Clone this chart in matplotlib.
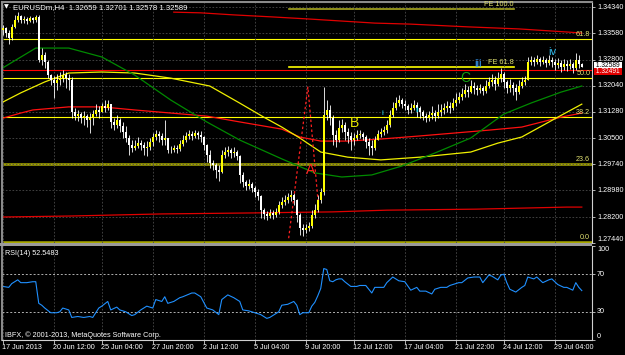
import numpy as np
import matplotlib.pyplot as plt
import matplotlib.transforms as mtransforms
from matplotlib.patches import Rectangle

plt.rcParams['font.family'] = ['Liberation Sans', 'DejaVu Sans']

# EURUSDm H4 candles (bar index 0 = 17 Jun 2013)
first_open = 1.3367
closes = [
    1.3373, 1.3358, 1.3343, 1.3376, 1.3396, 1.3408, 1.3396, 1.3399, 1.3393, 1.3402,
    1.3396, 1.3405, 1.3279, 1.3294, 1.3273, 1.3235, 1.3221, 1.3212, 1.3221, 1.3226,
    1.3235, 1.3226, 1.3221, 1.3127, 1.3115, 1.3121, 1.3109, 1.3115, 1.3104, 1.3109,
    1.3121, 1.3133, 1.3127, 1.3145, 1.3139, 1.3150, 1.3098, 1.3089, 1.3104, 1.3086,
    1.3069, 1.3051, 1.3031, 1.3022, 1.3028, 1.3036, 1.3031, 1.3022, 1.3025, 1.3039,
    1.3054, 1.3063, 1.3057, 1.3045, 1.3051, 1.3016, 1.3016, 1.3022, 1.3019, 1.3033,
    1.3045, 1.3057, 1.3063, 1.3057, 1.3066, 1.3060, 1.3054, 1.3031, 1.3001, 1.2978,
    1.2972, 1.2958, 1.2952, 1.3001, 1.3010, 1.3016, 1.3007, 1.3010, 1.2998, 1.2943,
    1.2922, 1.2911, 1.2916, 1.2905, 1.2893, 1.2881, 1.2840, 1.2829, 1.2823, 1.2832,
    1.2826, 1.2835, 1.2855, 1.2864, 1.2870, 1.2878, 1.2884, 1.2870, 1.2826, 1.2788,
    1.2782, 1.2788, 1.2794, 1.2826, 1.2840, 1.2870, 1.2893, 1.3118, 1.3133, 1.3109,
    1.3060, 1.3045, 1.3080, 1.3089, 1.3069, 1.3057, 1.3045, 1.3051, 1.3060, 1.3063,
    1.3054, 1.3039, 1.3028, 1.3022, 1.3045, 1.3063, 1.3069, 1.3074, 1.3089, 1.3118,
    1.3139, 1.3153, 1.3162, 1.3150, 1.3145, 1.3133, 1.3139, 1.3147, 1.3139, 1.3127,
    1.3115, 1.3109, 1.3118, 1.3124, 1.3115, 1.3127, 1.3133, 1.3139, 1.3145, 1.3139,
    1.3153, 1.3162, 1.3171, 1.3180, 1.3191, 1.3185, 1.3203, 1.3197, 1.3191, 1.3197,
    1.3188, 1.3203, 1.3215, 1.3221, 1.3209, 1.3226, 1.3238, 1.3215, 1.3197, 1.3206,
    1.3197, 1.3185, 1.3203, 1.3215, 1.3221, 1.3273, 1.3279, 1.3273, 1.3282, 1.3273,
    1.3279, 1.3270, 1.3279, 1.3273, 1.3264, 1.3270, 1.3259, 1.3267, 1.3261, 1.3267,
    1.3256, 1.3279, 1.3266, 1.32589]
highs = [
    1.3381, 1.3376, 1.3367, 1.3384, 1.3411, 1.3419, 1.3411, 1.3408, 1.3405, 1.3408,
    1.3405, 1.3411, 1.3411, 1.3314, 1.3302, 1.3279, 1.3238, 1.3232, 1.3238, 1.3244,
    1.3250, 1.3244, 1.3238, 1.3229, 1.3139, 1.3133, 1.3127, 1.3130, 1.3121, 1.3124,
    1.3133, 1.3150, 1.3145, 1.3153, 1.3162, 1.3162, 1.3150, 1.3109, 1.3118, 1.3109,
    1.3098, 1.3086, 1.3060, 1.3045, 1.3045, 1.3054, 1.3045, 1.3039, 1.3042, 1.3051,
    1.3066, 1.3074, 1.3071, 1.3066, 1.3104, 1.3051, 1.3028, 1.3031, 1.3031, 1.3045,
    1.3060, 1.3069, 1.3074, 1.3071, 1.3074, 1.3071, 1.3071, 1.3057, 1.3033, 1.3016,
    1.2987, 1.2978, 1.2972, 1.3016, 1.3025, 1.3028, 1.3022, 1.3025, 1.3016, 1.3001,
    1.2952, 1.2928, 1.2931, 1.2922, 1.2911, 1.2902, 1.2884, 1.2846, 1.2837, 1.2843,
    1.2840, 1.2846, 1.2867, 1.2878, 1.2884, 1.2890, 1.2899, 1.2890, 1.2872, 1.2832,
    1.2800, 1.2800, 1.2805, 1.2840, 1.2858, 1.2884, 1.2905, 1.3200, 1.3162, 1.3147,
    1.3118, 1.3074, 1.3104, 1.3107, 1.3098, 1.3080, 1.3069, 1.3066, 1.3074, 1.3074,
    1.3069, 1.3060, 1.3051, 1.3045, 1.3057, 1.3074, 1.3080, 1.3086, 1.3104, 1.3133,
    1.3156, 1.3171, 1.3177, 1.3168, 1.3162, 1.3150, 1.3153, 1.3162, 1.3156, 1.3145,
    1.3133, 1.3124, 1.3130, 1.3145, 1.3133, 1.3150, 1.3150, 1.3153, 1.3159, 1.3156,
    1.3168, 1.3183, 1.3185, 1.3197, 1.3209, 1.3203, 1.3221, 1.3215, 1.3206, 1.3209,
    1.3203, 1.3221, 1.3229, 1.3238, 1.3232, 1.3244, 1.3256, 1.3244, 1.3221, 1.3223,
    1.3215, 1.3209, 1.3221, 1.3229, 1.3232, 1.3288, 1.3291, 1.3288, 1.3294, 1.3288,
    1.3291, 1.3285, 1.3294, 1.3288, 1.3282, 1.3285, 1.3279, 1.3282, 1.3279, 1.3282,
    1.3273, 1.3300, 1.3294, 1.32701]
lows = [
    1.3352, 1.3346, 1.3326, 1.3338, 1.3373, 1.3390, 1.3387, 1.3387, 1.3384, 1.3390,
    1.3387, 1.3390, 1.3273, 1.3264, 1.3256, 1.3226, 1.3206, 1.3168, 1.3191, 1.3206,
    1.3215, 1.3197, 1.3191, 1.3109, 1.3104, 1.3101, 1.3095, 1.3089, 1.3083, 1.3066,
    1.3089, 1.3115, 1.3109, 1.3127, 1.3127, 1.3133, 1.3080, 1.3074, 1.3080, 1.3069,
    1.3051, 1.3039, 1.3001, 1.3010, 1.3016, 1.3022, 1.3016, 1.3001, 1.2998, 1.3016,
    1.3028, 1.3045, 1.3039, 1.3031, 1.3031, 1.3007, 1.3007, 1.3010, 1.3007, 1.3013,
    1.3028, 1.3039, 1.3048, 1.3045, 1.3051, 1.3048, 1.3039, 1.3016, 1.2981, 1.2963,
    1.2958, 1.2934, 1.2925, 1.2949, 1.2993, 1.2998, 1.2993, 1.2995, 1.2987, 1.2919,
    1.2908, 1.2899, 1.2902, 1.2893, 1.2878, 1.2870, 1.2817, 1.2814, 1.2811, 1.2817,
    1.2814, 1.2820, 1.2829, 1.2846, 1.2855, 1.2861, 1.2867, 1.2855, 1.2805, 1.2767,
    1.2764, 1.2773, 1.2779, 1.2788, 1.2817, 1.2835, 1.2861, 1.2884, 1.3104, 1.3089,
    1.3031, 1.3025, 1.3039, 1.3069, 1.3045, 1.3036, 1.3016, 1.3031, 1.3045, 1.3051,
    1.3045, 1.3022, 1.3001, 1.3001, 1.3016, 1.3045, 1.3054, 1.3060, 1.3066, 1.3083,
    1.3112, 1.3133, 1.3145, 1.3139, 1.3133, 1.3121, 1.3124, 1.3133, 1.3112, 1.3109,
    1.3104, 1.3098, 1.3101, 1.3107, 1.3101, 1.3109, 1.3115, 1.3121, 1.3127, 1.3124,
    1.3133, 1.3145, 1.3153, 1.3162, 1.3171, 1.3171, 1.3183, 1.3180, 1.3177, 1.3183,
    1.3177, 1.3183, 1.3197, 1.3203, 1.3191, 1.3203, 1.3215, 1.3197, 1.3183, 1.3185,
    1.3177, 1.3162, 1.3180, 1.3197, 1.3206, 1.3221, 1.3264, 1.3261, 1.3267, 1.3261,
    1.3267, 1.3259, 1.3264, 1.3259, 1.3250, 1.3256, 1.3244, 1.3250, 1.3247, 1.3253,
    1.3241, 1.3250, 1.3256, 1.32578]
opens = [first_open] + closes[:-1]

# moving averages at some bars
green_bar = [0, 11, 22, 33, 44, 56, 68, 79, 93, 104, 113, 123, 133, 144, 156, 167, 176, 186, 193]
green_val = [1.3256, 1.3314, 1.3314, 1.3288, 1.3235, 1.3162, 1.3098, 1.3045, 1.2990, 1.2949,
             1.2937, 1.2943, 1.2969, 1.3007, 1.3051, 1.3121, 1.3153, 1.3185, 1.3203]
yellow_bar = [0, 6, 14, 22, 33, 44, 56, 69, 79, 87, 93, 99, 106, 115, 126, 139, 156, 165, 173, 185, 193]
yellow_val = [1.3156, 1.3183, 1.3215, 1.3241, 1.3244, 1.3241, 1.3226, 1.3203, 1.3153, 1.3112,
              1.3083, 1.3051, 1.3010, 1.2995, 1.2987, 1.2995, 1.3010, 1.3036, 1.3054, 1.3112, 1.3150]
red_mid_bar = [0, 6, 10, 22, 33, 44, 56, 68, 79, 93, 99, 106, 115, 126, 139, 162, 173, 186, 193]
red_mid_val = [1.3109, 1.3124, 1.3133, 1.3142, 1.3142, 1.3133, 1.3124, 1.3115, 1.3098, 1.3077,
               1.3054, 1.3042, 1.3042, 1.3048, 1.3057, 1.3074, 1.3083, 1.3112, 1.3124]
red_top_bar = [57, 66, 77, 90, 102, 113, 124, 136, 155, 172, 188, 193]
red_top_val = [1.3419, 1.3417, 1.3411, 1.3405, 1.3399, 1.3393, 1.3387, 1.3384, 1.3376, 1.3370,
               1.3361, 1.3358]
red_low_bar = [0, 23, 38, 53, 84, 110, 128, 158, 188, 193]
red_low_val = [1.2820, 1.2823, 1.2826, 1.2829, 1.2832, 1.2835, 1.2840, 1.2843, 1.2849, 1.2849]

# RSI(14)
rsi_bar = [0, 2, 3, 5, 6, 8, 10, 11, 12, 13, 14, 16, 18, 19, 20, 22, 23, 25, 27, 29, 30, 32, 33,
           35, 36, 38, 39, 41, 43, 44, 46, 48, 50, 51, 53, 54, 55, 57, 59, 60, 63, 64, 66, 68,
           70, 72, 73, 75, 77, 79, 80, 82, 84, 86, 88, 89, 92, 93, 95, 97, 98, 99, 100, 102,
           103, 104, 105, 106, 107, 108, 109, 110, 111, 112, 113, 114, 116, 118, 119, 121, 123,
           124, 127, 128, 130, 132, 134, 136, 138, 139, 141, 143, 144, 146, 148, 149, 152, 153,
           155, 157, 159, 160, 162, 163, 165, 166, 167, 168, 169, 171, 173, 174, 175, 177, 178,
           180, 182, 183, 185, 187, 188, 190, 191, 192, 193]
rsi_val = [57, 56, 60, 64, 61, 61, 62, 62, 39, 37, 34, 29, 29, 30, 34, 32, 24, 25, 24, 25, 24, 34,
           36, 41, 32, 35, 32, 30, 26, 27, 32, 36, 34, 43, 41, 46, 39, 41, 45, 46, 50, 50, 46, 34,
           32, 27, 43, 48, 45, 41, 32, 31, 29, 27, 23, 24, 30, 37, 38, 41, 37, 27, 29, 29,
           36, 40, 47, 55, 76, 75, 63, 62, 64, 65, 65, 62, 57, 57, 58, 58, 50,
           56, 56, 61, 67, 63, 62, 53, 56, 52, 52, 49, 54, 56, 56, 58, 61, 61,
           66, 67, 67, 61, 69, 68, 64, 69, 70, 61, 54, 51, 56, 58, 67, 65, 67,
           61, 64, 65, 59, 56, 56, 53, 61, 56, 52.55]

# fibonacci retracement / expansion and wave marks
fib_names = ['0.0', '23.6', '38.2', '50.0', '61.8']
fib_prices = [1.2748, 1.2975, 1.3111, 1.3226, 1.3341]
fe_names = ['FE 61.8', 'FE 100.0']
fe_prices = [1.3259, 1.3429]
fe_start, fe_end = 95.3, 170.3
wave_bar = [95.3, 101.7, 105.3]
wave_val = [1.2758, 1.3200, 1.2846]
ask_price = 1.32491
bid_price = 1.32589

price_ticks = [1.34340, 1.33580, 1.32800, 1.32040, 1.31280, 1.30500, 1.29740, 1.28980, 1.28200, 1.27440]
time_ticks = [0, 17, 33, 50, 67, 84, 101, 117, 134, 151, 167, 184]
time_labels = ['17 Jun 2013', '20 Jun 12:00', '25 Jun 04:00', '27 Jun 20:00', '2 Jul 12:00',
               '5 Jul 04:00', '9 Jul 20:00', '12 Jul 12:00', '17 Jul 04:00', '21 Jul 22:00',
               '24 Jul 12:00', '29 Jul 04:00']

W, H = 625, 355
fig = plt.figure(figsize=(W / 100, H / 100), dpi=100, facecolor='black')


def box(x0, y0, x1, y1):
    return [x0 / W, 1 - y1 / H, (x1 - x0) / W, (y1 - y0) / H]


ax = fig.add_axes(box(2, 2, 592, 243))
ax2 = fig.add_axes(box(2, 246, 592, 340), sharex=ax)
xlim = (-0.25, 196.4)
fs = 5.2
gridc = '#4a4a4a'

for a in (ax, ax2):
    a.set_facecolor('black')
    a.set_xlim(*xlim)
    a.set_xticks(time_ticks)
    a.tick_params(axis='x', length=0, labelbottom=False)
    a.grid(True, axis='x', color=gridc, lw=0.6, ls=(0, (2, 2)))
    a.spines['left'].set_color('#8a8a8a')
    a.spines['left'].set_linewidth(1.5)
    a.spines['right'].set_color('#d0d0d0')
    a.spines['right'].set_linewidth(0.8)
    a.tick_params(axis='y', left=False, right=True, labelleft=False, labelright=False,
                  length=2.5, color='#d0d0d0', width=0.6)

# main panel
ax.set_ylim(1.27440, 1.34487)
ax.set_yticks(price_ticks)
ax.grid(True, axis='y', color=gridc, lw=0.6, ls=(0, (2, 2)))
ax.spines['top'].set_color('#8a8a8a')
ax.spines['top'].set_linewidth(1.5)
ax.spines['bottom'].set_visible(False)

ytr = mtransforms.blended_transform_factory(ax.transAxes, ax.transData)
for p in price_ticks:
    ax.text(1.0085, p, '%.5f' % p, transform=ytr, color='white', fontsize=fs,
            va='bottom' if p == price_ticks[-1] else 'center', ha='left', clip_on=False)

# fib lines
for name, p in zip(fib_names, fib_prices):
    thick = name in ('0.0', '23.6')
    ax.axhline(p, color='#a8a800' if thick else '#ffff00', lw=1.8 if thick else 0.8, zorder=1.5)
    ax.text(0.997, p + 0.0003, name, transform=ytr, color='#e0e070', fontsize=fs,
            ha='right', va='bottom', zorder=6)
ax.axhline(ask_price, color='#ff0000', lw=0.8, zorder=1.5)
for name, p in zip(fe_names, fe_prices):
    ax.plot([fe_start, fe_end], [p, p], color='#ffff00' if name == 'FE 61.8' else '#a8a820',
            lw=1.2, zorder=1.5)
    ax.text(fe_end, p + 0.0003, name, color='#e0e070', fontsize=fs, ha='right', va='bottom')

# moving averages
ax.plot(red_top_bar, red_top_val, color='#e00000', lw=0.9, zorder=2)
ax.plot(red_low_bar, red_low_val, color='#e00000', lw=0.9, zorder=2)
ax.plot(red_mid_bar, red_mid_val, color='#ff1010', lw=0.9, zorder=2)
ax.plot(yellow_bar, yellow_val, color='#f0f000', lw=0.9, zorder=2)
ax.plot(green_bar, green_val, color='#008a00', lw=0.9, zorder=2)

# candles
idx = np.arange(len(closes))
o = np.array(opens)
c = np.array(closes)
bull = c >= o
bot = np.minimum(o, c)
hgt = np.maximum(np.abs(c - o), 0.00008)
ax.vlines(idx, lows, highs, color='white', lw=0.6, zorder=3)
ax.bar(idx[bull], hgt[bull], bottom=bot[bull], width=0.6, color='#ffff00', edgecolor='none', zorder=4)
ax.bar(idx[~bull], hgt[~bull], bottom=bot[~bull], width=0.6, color='white', edgecolor='none', zorder=4)

# wave drawing and labels
ax.plot(wave_bar, wave_val, color='#ff2020', lw=0.9, ls=(0, (2, 2)), zorder=3)
ax.text(102.7, 1.2958, 'A', color='#ff2020', fontsize=10, ha='center', va='center', zorder=6)
ax.text(117.3, 1.3095, 'B', color='#e8e800', fontsize=10, ha='center', va='center', zorder=6)
ax.text(154.3, 1.3226, 'C', color='#10a010', fontsize=10, ha='center', va='center', zorder=6)
ax.text(158.3, 1.3267, 'iii', color='#3aa0ff', fontsize=8, ha='center', va='center', zorder=6)
ax.text(183.3, 1.3302, 'iv', color='#30b8e8', fontsize=8, ha='center', va='center', zorder=6)
ax.text(126.7, 1.3124, 'i', color='#20d8f0', fontsize=6, ha='center', va='center', zorder=6)
ax.text(138.3, 1.3130, 'ii', color='#20d8f0', fontsize=6, ha='center', va='center', zorder=6)

# header and price boxes
ax.text(0.0076, 0.979, '\u25bc', transform=ax.transAxes, color='white', fontsize=4.5,
        ha='center', va='center', family='DejaVu Sans')
ax.text(0.0186, 0.979, 'EURUSDm,H4  1.32659 1.32701 1.32578 1.32589', transform=ax.transAxes,
        color='white', fontsize=5.6, ha='left', va='center')
ax.text(1.004, 1.32630, ' %.5f ' % bid_price, transform=ytr, color='black',
        fontsize=4.8, ha='left', va='center', clip_on=False,
        bbox=dict(facecolor='white', edgecolor='none', pad=0.0))
ax.text(1.004, 1.32455, ' %.5f ' % ask_price, transform=ytr, color='white',
        fontsize=4.8, ha='left', va='center', clip_on=False, zorder=7,
        bbox=dict(facecolor='#e00000', edgecolor='none', pad=0.0))

# RSI panel
ax2.set_ylim(0, 100)
ax2.set_yticks([0, 30, 70, 100])
ax2.spines['top'].set_visible(False)
ax2.spines['bottom'].set_color('#d0d0d0')
ax2.spines['bottom'].set_linewidth(0.8)
ax2.axhline(70, color='#b0b0b0', lw=0.7, ls=(0, (2, 2)))
ax2.axhline(30, color='#b0b0b0', lw=0.7, ls=(0, (2, 2)))
ax2.plot(rsi_bar, rsi_val, color='#2090ff', lw=0.8)
rtr = mtransforms.blended_transform_factory(ax2.transAxes, ax2.transData)
for v, va in [(100, 'top'), (70, 'center'), (30, 'center'), (0, 'bottom')]:
    ax2.text(1.0085, v, str(v), transform=rtr, color='white', fontsize=fs, va=va, ha='left',
             clip_on=False)
ax2.text(0.005, 0.925, 'RSI(14) 52.5483', transform=ax2.transAxes, color='white', fontsize=fs,
         ha='left', va='center')
ax2.text(0.005, 0.05, 'IBFX, \u00a9 2001-2013, MetaQuotes Software Corp.', transform=ax2.transAxes,
         color='white', fontsize=fs, ha='left', va='center')

# time axis
ax2.tick_params(axis='x', length=3, color='#d0d0d0', width=0.6, direction='out')
xtr = mtransforms.blended_transform_factory(ax2.transData, ax2.transAxes)
for t, lab in zip(time_ticks, time_labels):
    ax2.text(t - 0.2, -0.085, lab, transform=xtr, color='white', fontsize=fs, ha='left',
             va='center', clip_on=False)

# separator between the panels
fig.add_artist(Rectangle((0, 1 - 246 / H), 592 / W, 3 / H, transform=fig.transFigure,
                         color='#9a9a9a', lw=0))

fig.savefig('out.png', dpi=100, facecolor='black')
